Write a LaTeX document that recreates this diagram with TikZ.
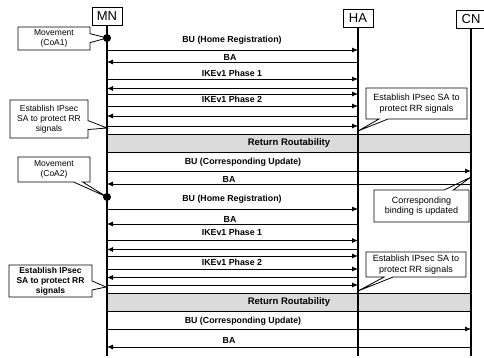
\documentclass[tikz,border=0pt]{standalone}
\usepackage{fontspec}
\setmainfont{Liberation Sans}
\usetikzlibrary{arrows.meta,shapes.callouts}
\begin{document}
\begin{tikzpicture}[x=1pt,y=-1pt,
  lifebox/.style={draw,line width=0.9pt,minimum width=30pt,minimum height=18pt,inner sep=0pt,font=\fontsize{13}{13}\selectfont},
  lifeline/.style={line width=1.8pt},
  msg/.style={line width=0.8pt,-{Latex[length=6pt,width=5pt]}},
  lbl/.style={font=\fontsize{8.8}{9}\selectfont\bfseries,inner sep=0pt},
  note/.style={rectangle callout,draw,line width=0.8pt,align=center,inner sep=1pt,font=\fontsize{8.5}{10}\selectfont,callout pointer width=9pt},
  bignote/.style={note,font=\fontsize{9}{10.5}\selectfont},
  band/.style={draw,line width=0.6pt,fill=gray!28,minimum width=364pt,minimum height=18pt,inner sep=0pt,font=\fontsize{9.5}{10}\selectfont\bfseries},
  dotmark/.style={circle,fill=black,inner sep=0pt,minimum size=8pt}
]
\useasboundingbox (0,0) rectangle (484,358);

% lifeline heads
\node[lifebox] (MN) at (107,16.5) {MN};
\node[lifebox] (HA) at (358,18) {HA};
\node[lifebox] (CN) at (471,19) {CN};
\coordinate (MNe) at (107,356);
\coordinate (HAe) at (358,356);
\coordinate (CNe) at (471,356);

% return routability bands
\node[band] (rr1) at (289,143) {Return Routability};
\node[band] (rr2) at (289,302) {Return Routability};

% lifelines
\draw[lifeline] (MN) -- (MNe);
\draw[lifeline] (HA) -- (HAe);
\draw[lifeline] (CN) -- (CNe);

% movement dots
\node[dotmark] (dot1) at (107,38) {};
\node[dotmark] (dot2) at (107,197) {};

% pointer targets
\coordinate (p2) at (107,128);
\coordinate (p3) at (358,131);
\coordinate (p4) at (471,177);
\coordinate (p6) at (106,287);
\coordinate (p7) at (358,291);

% callouts
\node[note,minimum width=72pt,minimum height=23pt,callout absolute pointer={(dot1.center)}] (n1) at (54,38.5) {Movement\\(CoA1)};
\node[note,minimum width=78pt,minimum height=38pt,callout absolute pointer={(p2)}] (n2) at (49,119) {Establish IPsec\\SA to protect RR\\signals};
\node[bignote,minimum width=101pt,minimum height=31pt,callout absolute pointer={(p3)}] (n3) at (416.5,103.5) {Establish IPsec SA to\\protect RR signals};
\node[bignote,minimum width=95pt,minimum height=32pt,callout absolute pointer={(p4)}] (n4) at (421.5,206) {Corresponding\\binding is updated};
\node[note,minimum width=72pt,minimum height=25pt,callout absolute pointer={(dot2.center)}] (n5) at (54,169.5) {Movement\\(CoA2)};
\node[note,minimum width=83pt,minimum height=32pt,callout absolute pointer={(p6)},font=\fontsize{8.5}{10}\selectfont\bfseries] (n6) at (50.5,281) {Establish IPsec\\SA to protect RR\\signals};
\node[bignote,minimum width=100pt,minimum height=25pt,callout absolute pointer={(p7)}] (n7) at (416,264.5) {Establish IPsec SA to\\protect RR signals};

% ---- first registration ----
\node[lbl] (l1) at (232,40.5) {BU (Home Registration)};
\draw[msg] (MN |- 0,50) -- (HA |- 0,50);
\node[lbl] (l2) at (230,57) {BA};
\draw[msg] (HA |- 0,62) -- (MN |- 0,62);
\node[lbl] (l3) at (232,73.5) {IKEv1 Phase 1};
\draw[msg] (MN |- 0,79) -- (HA |- 0,79);
\draw[msg] (HA |- 0,88.5) -- (MN |- 0,88.5);
\draw[msg] (MN |- 0,94) -- (HA |- 0,94);
\node[lbl] (l4) at (232,99.5) {IKEv1 Phase 2};
\draw[msg] (MN |- 0,106) -- (HA |- 0,106);
\draw[msg] (HA |- 0,116) -- (MN |- 0,116);
\draw[msg] (MN |- 0,126) -- (HA |- 0,126);

\node[lbl] (l5) at (243,162) {BU (Corresponding Update)};
\draw[msg] (MN |- 0,171) -- (CN |- 0,171);
\node[lbl] (l6) at (229,179.5) {BA};
\draw[msg] (CN |- 0,184) -- (MN |- 0,184);

% ---- second registration ----
\node[lbl] (l7) at (232,199.5) {BU (Home Registration)};
\draw[msg] (MN |- 0,209) -- (HA |- 0,209);
\node[lbl] (l8) at (230,219.5) {BA};
\draw[msg] (HA |- 0,224) -- (MN |- 0,224);
\node[lbl] (l9) at (232,232) {IKEv1 Phase 1};
\draw[msg] (MN |- 0,240.5) -- (HA |- 0,240.5);
\draw[msg] (HA |- 0,249.5) -- (MN |- 0,249.5);
\draw[msg] (MN |- 0,256) -- (HA |- 0,256);
\node[lbl] (l10) at (232,262.5) {IKEv1 Phase 2};
\draw[msg] (MN |- 0,269) -- (HA |- 0,269);
\draw[msg] (HA |- 0,277.5) -- (MN |- 0,277.5);
\draw[msg] (MN |- 0,285) -- (HA |- 0,285);

\node[lbl] (l11) at (243,321) {BU (Corresponding Update)};
\draw[msg] (MN |- 0,329) -- (CN |- 0,329);
\node[lbl] (l12) at (229,340) {BA};
\draw[msg] (CN |- 0,347) -- (MN |- 0,347);
\end{tikzpicture}
\end{document}
